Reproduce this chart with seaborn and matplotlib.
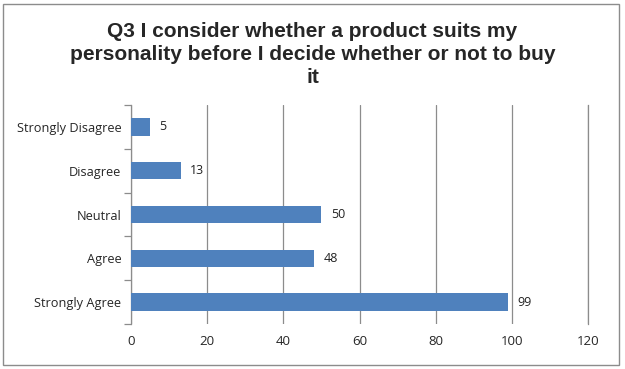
import matplotlib
matplotlib.use("Agg")
import matplotlib.pyplot as plt
import pandas as pd
import seaborn as sns

# ------------------ DATA ------------------
categories = ["Strongly Disagree", "Disagree", "Neutral", "Agree", "Strongly Agree"]
counts = [5, 13, 50, 48, 99]
x_ticks = [0, 20, 40, 60, 80, 100, 120]
title = "Q3 I consider whether a product suits my\npersonality before I decide whether or not to buy\nit"

df = pd.DataFrame({"Response": categories, "Count": counts})

# ------------------ PLOTTING ------------------
sns.set_style("white")
plt.rcParams['font.family'] = ['Open Sans', 'DejaVu Sans']

fig = plt.figure(figsize=(6.25, 3.69), dpi=100)
ax = fig.add_axes([131 / 625, 1 - 324 / 369, (588 - 131) / 625, (324 - 105) / 369])

sns.barplot(data=df, x="Count", y="Response", order=categories, color="#4F81BD",
            width=0.4, saturation=1, linewidth=0, ax=ax, zorder=3)

for i, v in enumerate(counts):
    ax.text(v + 2.5, i, str(v), va="center", ha="left", fontsize=9, color="#222222")

ax.set_xlim(0, 120)
ax.set_ylim(4.5, -0.5)
ax.set_xticks(x_ticks)
ax.set_xticklabels([str(t) for t in x_ticks], fontsize=9.5)
ax.set_yticks(range(len(categories)))
ax.set_yticklabels(categories, fontsize=9.2)
ax.set_xlabel("")
ax.set_ylabel("")

# vertical gridlines
ax.grid(True, axis="x", color="#8c8c8c", linewidth=0.9, zorder=0)
ax.grid(False, axis="y")

for side in ["top", "bottom"]:
    ax.spines[side].set_visible(False)
for side in ["left", "right"]:
    ax.spines[side].set_color("#8c8c8c")
    ax.spines[side].set_linewidth(0.9)

# tick marks on the category axis sit between categories
ax.set_yticks([i - 0.5 for i in range(len(categories) + 1)], minor=True)
ax.tick_params(axis="y", which="major", length=0, pad=7)
ax.tick_params(axis="y", which="minor", length=5, color="#8c8c8c", width=0.9, direction="out", left=True)
ax.tick_params(axis="x", length=0, pad=8)

fig.text(0.5, 1 - 22 / 369, title, ha="center", va="top", fontsize=15, fontweight="bold",
         family=["Liberation Sans", "DejaVu Sans"], linespacing=1.27)

# chart border
fig.patches.append(plt.Rectangle((3 / 625, 4 / 369), 616 / 625, 361 / 369, transform=fig.transFigure,
                                 fill=False, edgecolor="#8c8c8c", linewidth=1))

fig.savefig("out.png", dpi=100)
